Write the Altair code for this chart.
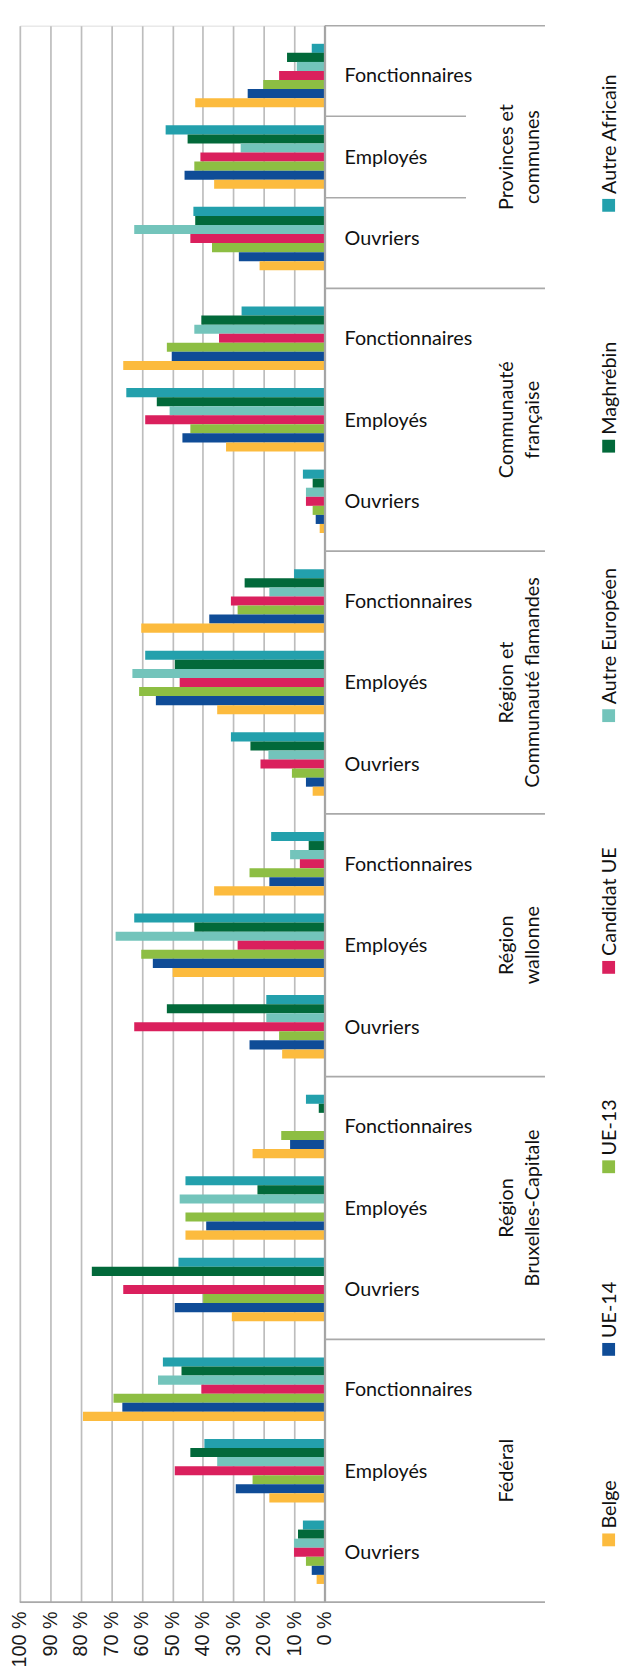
import altair as alt
import pandas as pd

# ---------------- data ----------------
GROUPS = ["Provinces et communes", "Communauté française", "Région et Communauté flamandes",
          "Région wallonne", "Région Bruxelles-Capitale", "Fédéral"]
GROUP_LINES = [["Provinces et", "communes"], ["Communauté", "française"],
               ["Région et", "Communauté flamandes"], ["Région", "wallonne"],
               ["Région", "Bruxelles-Capitale"], ["Fédéral"]]
CATEGORIES = ["Fonctionnaires", "Employés", "Ouvriers"]
SERIES = ["Autre Africain", "Maghrébin", "Autre Européen", "Candidat UE", "UE-13", "UE-14", "Belge"]
COLORS = ["#23A0AC", "#02693A", "#73C4BB", "#DA205D", "#8DBE43", "#0F4C97", "#FCBB3E"]
TICKS = [0, 10, 20, 30, 40, 50, 60, 70, 80, 90, 100]

# values (%) in order: group x (Fonctionnaires, Employés, Ouvriers)
AUTRE_AFRICAIN = [4.3, 52.2, 43.1, 27.3, 65.1, 7.2, 10.1, 58.9, 30.8,
                  17.6, 62.5, 19.2, 6.2, 45.7, 48.0, 53.1, 39.5, 7.2]
MAGHREBIN = [12.4, 45.0, 42.5, 40.5, 55.1, 4.0, 26.3, 49.2, 24.4,
             5.3, 42.8, 51.8, 2.0, 22.1, 76.4, 47.0, 44.1, 8.8]
AUTRE_EUROPEEN = [9.2, 27.6, 62.5, 42.8, 50.9, 6.2, 18.2, 63.1, 18.5,
                  11.4, 68.6, 19.2, None, 47.6, None, 54.7, 35.3, 10.1]
CANDIDAT_UE = [15.0, 40.8, 44.1, 34.7, 58.9, 6.2, 30.8, 47.6, 21.1,
               8.2, 28.6, 62.5, None, None, 66.1, 40.5, 49.2, 10.1]
UE_13 = [20.2, 42.8, 37.0, 51.8, 44.1, 4.0, 28.6, 60.9, 10.8,
         24.7, 60.2, 15.0, 14.3, 45.7, 39.9, 69.3, 23.7, 6.2]
UE_14 = [25.3, 46.0, 28.2, 50.2, 46.7, 3.0, 37.9, 55.4, 6.2,
         18.2, 56.4, 24.7, 11.4, 38.9, 49.2, 66.4, 29.2, 4.3]
BELGE = [42.5, 36.3, 21.4, 66.1, 32.4, 1.7, 60.2, 35.3, 4.0,
         36.3, 49.9, 14.0, 23.7, 45.7, 30.5, 79.3, 18.2, 2.7]
VALUES = [AUTRE_AFRICAIN, MAGHREBIN, AUTRE_EUROPEEN, CANDIDAT_UE, UE_13, UE_14, BELGE]

# ---------------- layout (not data) ----------------
W, H = 309, 1597
FONT = "Lato"
TICK_FONT = "Liberation Sans"
LEGEND_CY = [182, 426, 699, 954, 1156, 1341, 1534]   # swatch centres (plot px)

# band domain: spacers + bars
domain = []
for g in GROUPS:
    domain += [f"{g}|t1", f"{g}|t2"]
    for ci, c in enumerate(CATEGORIES):
        domain += [f"{g}|{c}|{s}" for s in SERIES]
        if ci < 2:
            domain += [f"{g}|{c}|g1", f"{g}|{c}|g2"]
    domain += [f"{g}|b1", f"{g}|b2"]

yscale = alt.Scale(domain=domain, paddingInner=0, paddingOuter=0)
xscale = alt.Scale(domain=[0, 100], reverse=True, nice=False, zero=True)
XAX = alt.Axis(values=TICKS, labelExpr="datum.value + ' %'", labelAngle=270,
               labelAlign="right", labelBaseline="middle", labelPadding=9,
               ticks=False, domain=False, grid=True, gridColor="#bdbdbd",
               gridWidth=1.7, labelFontSize=20, labelFont=TICK_FONT,
               labelColor="#1a1a1a", labelOverlap=False, labelFlush=False, title=None)


def xdat(v):
    return alt.XDatum(v, scale=xscale, axis=XAX)


def ykey(bp=None):
    if bp is None:
        return alt.Y("key:N", scale=yscale, axis=None)
    return alt.Y("key:N", scale=yscale, axis=None, bandPosition=bp)


rows = []
for si, s in enumerate(SERIES):
    k = 0
    for g in GROUPS:
        for c in CATEGORIES:
            v = VALUES[si][k]
            k += 1
            if v is not None:
                rows.append({"key": f"{g}|{c}|{s}", "series": s, "value": v})
df = pd.DataFrame(rows)

bars = alt.Chart(df).mark_bar().encode(
    y=ykey(),
    x=alt.X("value:Q", scale=xscale, axis=XAX),
    color=alt.Color("series:N", scale=alt.Scale(domain=SERIES, range=COLORS), legend=None),
)

# category labels
cat_df = pd.DataFrame([{"key": f"{g}|{c}|Candidat UE", "label": c}
                       for g in GROUPS for c in CATEGORIES])
cat_text = alt.Chart(cat_df).mark_text(
    align="left", baseline="middle", dx=20, dy=1, font=FONT, fontSize=20, color="#111111"
).encode(y=ykey(), x=xdat(0), text="label:N")

# group labels
grp_df = pd.DataFrame([{"key": f"{g}|Employés|Candidat UE", "label": lines}
                       for g, lines in zip(GROUPS, GROUP_LINES)])
grp_text = alt.Chart(grp_df).mark_text(
    align="center", baseline="alphabetic", angle=270, font=FONT, fontSize=20,
    lineHeight=26, color="#111111"
).encode(y=ykey(), x=alt.value(500), text="label")

# separators
sep_df = pd.DataFrame([{"key": f"{g}|t1"} for g in GROUPS])
seps = alt.Chart(sep_df).mark_rule(color="#a9a9a9", strokeWidth=1.6).encode(
    y=ykey(0), x=xdat(0), x2=alt.value(532))
inner_df = pd.DataFrame([{"key": f"{GROUPS[0]}|{c}|g2"} for c in CATEGORIES[:2]])
inner = alt.Chart(inner_df).mark_rule(color="#a9a9a9", strokeWidth=1.6).encode(
    y=ykey(0), x=xdat(0), x2=alt.value(452))
bottom_df = pd.DataFrame([{"key": f"{GROUPS[-1]}|b2"}])
bottom = alt.Chart(bottom_df).mark_rule(color="#a9a9a9", strokeWidth=1.8).encode(
    y=ykey(1), x=xdat(100), x2=alt.value(532))
zero_line = alt.Chart(pd.DataFrame([{"v": 0}])).mark_rule(color="#a3a3a3", strokeWidth=2).encode(
    x=xdat(0), y=alt.value(0), y2=alt.value(H))

# legend (rotated, drawn manually)
legend_layers = []
for s, col, cy in zip(SERIES, COLORS, LEGEND_CY):
    one = pd.DataFrame([{"label": s}])
    legend_layers.append(alt.Chart(one).mark_square(size=169, color=col, opacity=1).encode(
        x=alt.value(596.5), y=alt.value(cy)))
    legend_layers.append(alt.Chart(one).mark_text(
        align="left", baseline="alphabetic", angle=270, font=FONT, fontSize=20,
        color="#111111").encode(x=alt.value(604), y=alt.value(cy - 11.5), text="label:N"))

chart = alt.layer(bars, zero_line, seps, inner, bottom, cat_text, grp_text, *legend_layers).properties(
    width=W, height=H,
    autosize=alt.AutoSizeParams(type="none"),
    padding={"left": 12, "top": 7, "right": 299, "bottom": 65},
).configure_view(stroke=None).configure(background="white")

chart.save("out.html", embed_options={"renderer": "svg", "actions": False})
